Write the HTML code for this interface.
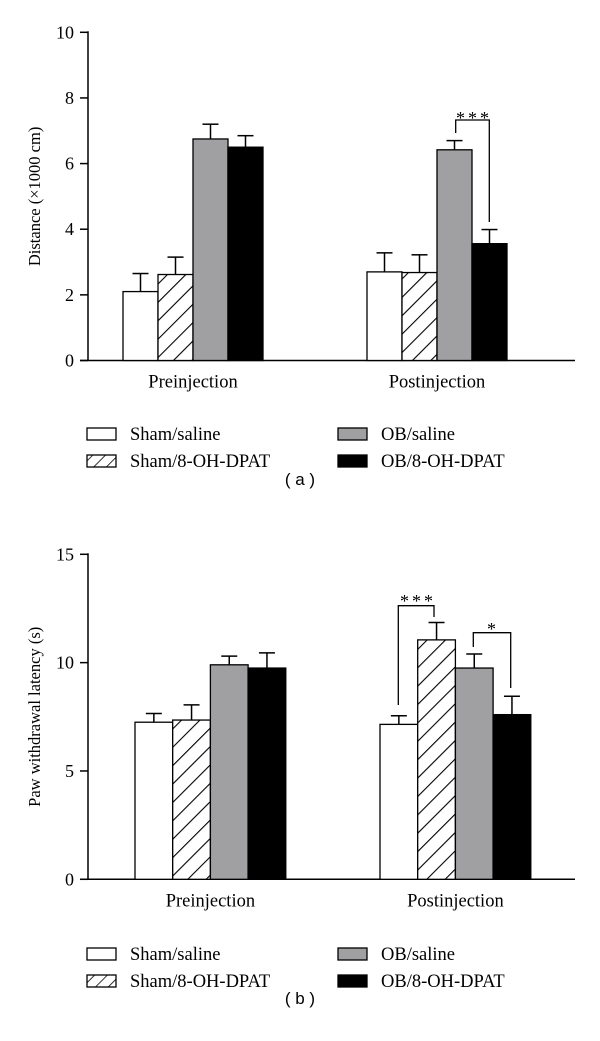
<!DOCTYPE html>
<html><head><meta charset="utf-8"><style>
html,body{margin:0;padding:0;background:#fff;}
svg{display:block;font-family:"Liberation Serif",serif;}
</style></head><body>
<svg id="s" width="600" height="1041" viewBox="0 0 600 1041" xmlns="http://www.w3.org/2000/svg">
<defs>
<pattern id="hatch" patternUnits="userSpaceOnUse" width="13" height="13" patternTransform="rotate(45)">
<rect width="13" height="13" fill="#fff"/><line x1="0" y1="0" x2="0" y2="13" stroke="#000" stroke-width="2.2"/>
</pattern>
<pattern id="hatchL" patternUnits="userSpaceOnUse" width="9" height="9" patternTransform="rotate(45)">
<rect width="9" height="9" fill="#fff"/><line x1="0" y1="0" x2="0" y2="9" stroke="#000" stroke-width="1.6"/>
</pattern>
</defs>
</svg>
<script>
const groups = ["Preinjection","Postinjection"];
const seriesNames = ["Sham/saline","Sham/8-OH-DPAT","OB/saline","OB/8-OH-DPAT"];
const aMeans = [[2.1,2.62,6.75,6.5],[2.7,2.68,6.42,3.56]];
const aErr = [[0.55,0.53,0.45,0.35],[0.58,0.54,0.28,0.43]];
const aTicks = [0,2,4,6,8,10];
const bMeans = [[7.25,7.35,9.9,9.75],[7.15,11.05,9.75,7.6]];
const bErr = [[0.4,0.7,0.4,0.7],[0.4,0.8,0.65,0.85]];
const bTicks = [0,5,10,15];

const NS="http://www.w3.org/2000/svg";
const svg=document.getElementById('s');
const fills=["#fff","url(#hatch)","#a0a0a2","#000"];
const lfills=["#fff","url(#hatchL)","#a0a0a2","#000"];
function mk(tag,attrs,parent){const e=document.createElementNS(NS,tag);for(const k in attrs)e.setAttribute(k,attrs[k]);(parent||svg).appendChild(e);return e;}

function chart(cfg){
  const g=mk('g',{});
  
  
  const y=v=>cfg.y0-(v-cfg.min)/(cfg.max-cfg.min)*(cfg.y0-cfg.y1);
  const ax=mk('line',{x1:88,y1:y(cfg.max)-1,x2:88,y2:cfg.y0,stroke:'#000','stroke-width':1.5},g);
  
  
  const xa=mk('line',{x1:80,y1:cfg.y0,x2:575,y2:cfg.y0,stroke:'#000','stroke-width':1.5},g);
  
  
  cfg.ticks.forEach(t=>{
    const tl=mk('line',{x1:80,y1:y(t),x2:88,y2:y(t),stroke:'#000','stroke-width':1.5},g);
    
    
    const tx=mk('text',{x:74,y:y(t)+6,'text-anchor':'end','font-size':18},g);
    tx.textContent=t;
    
    
  });
  const yt=mk('text',{x:0,y:0,'text-anchor':'middle','font-size':16.5,transform:`translate(40,${(cfg.y0+y(cfg.max))/2}) rotate(-90)`},g);
  yt.textContent=cfg.ytitle;
  
  
  groups.forEach((gn,gi)=>{
    const x0=cfg.gx[gi];
    cfg.means[gi].forEach((m,si)=>{
      const bx=x0+si*cfg.bw;
      const e=m+cfg.err[gi][si];
      const cx=bx+cfg.bw/2;
      const el=mk('line',{x1:cx,y1:y(m),x2:cx,y2:y(e),stroke:'#000','stroke-width':1.5},g);
      
      
      const ec=mk('line',{x1:cx-8,y1:y(e),x2:cx+8,y2:y(e),stroke:'#000','stroke-width':1.5},g);
      
      
      const r=mk('rect',{x:bx,y:y(m),width:cfg.bw,height:cfg.y0-y(m),fill:fills[si],stroke:'#000','stroke-width':1.3},g);
      
      
    });
    const lt=mk('text',{x:x0+2*cfg.bw,y:cfg.y0+27,'text-anchor':'middle','font-size':18.5},g);
    lt.textContent=gn;
    
    
  });
  const ly=cfg.ly;
  seriesNames.forEach((n,i)=>{
    const col=i<2?0:1,row=i%2;
    const bx=col?338:87, by=ly+row*27;
    const r=mk('rect',{x:bx,y:by,width:29,height:12,fill:lfills[i],stroke:'#000','stroke-width':1.3},g);
    
    
    const t=mk('text',{x:bx+43,y:by+12,'font-size':18.5},g);
    t.textContent=n;
    
    
  });
  const cap=mk('text',{x:300,y:cfg.capY,'text-anchor':'middle','font-size':17,'font-family':'Liberation Sans, sans-serif'},g);
  cap.textContent=cfg.cap;
  
  
  return {g,y};
}
const A=chart({name:'chart-a',y0:360.5,y1:32.3,min:0,max:10,ticks:aTicks,means:aMeans,err:aErr,gx:[123,367],bw:35,ytitle:'Distance (×1000 cm)',ly:428,capY:485,cap:'( a )'});
const B=chart({name:'chart-b',y0:879.3,y1:554.3,min:0,max:15,ticks:bTicks,means:bMeans,err:bErr,gx:[135,380],bw:37.7,ytitle:'Paw withdrawal latency (s)',ly:948,capY:1004,cap:'( b )'});
function bracket(g,pts,label,lx,ly){
  const p=mk('polyline',{points:pts,fill:'none',stroke:'#000','stroke-width':1.3},g);
  
  
  const t=mk('text',{x:lx,y:ly,'text-anchor':'middle','font-size':18,'letter-spacing':'3'},g);
  t.textContent=label;
  
  
}
bracket(A.g,"455.7,133 455.7,120 489.3,120 489.3,222","***",474,124);
bracket(B.g,"398.3,705 398.3,605.7 434,605.7 434,617","***",418,607);
bracket(B.g,"473.3,647 473.3,632.7 510.7,632.7 510.7,688","*",493,635);
</script>
</body></html>
